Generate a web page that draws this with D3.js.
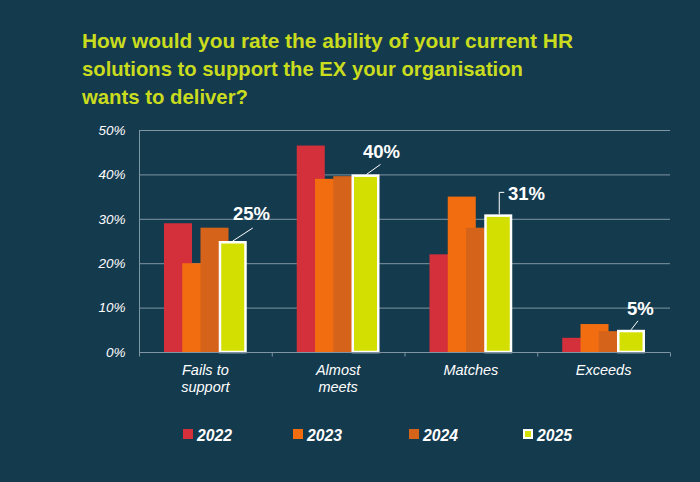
<!DOCTYPE html>
<html>
<head>
<meta charset="utf-8">
<script src="https://cdn.jsdelivr.net/npm/d3@7"></script>
<style>
  html, body { margin: 0; padding: 0; background: #143a4e; }
  svg { display: block; }
</style>
</head>
<body>
<svg id="chart" width="700" height="482"></svg>
<script>
const titleLines = [
  "How would you rate the ability of your current HR",
  "solutions to support the EX your organisation",
  "wants to deliver?"
];
const categories = ["Fails to\nsupport", "Almost\nmeets", "Matches", "Exceeds"];
const years = ["2022", "2023", "2024", "2025"];
const v2022 = [29, 46.5, 22, 3.2];
const v2023 = [20, 39, 35, 6.3];
const v2024 = [28, 39.6, 28, 4.7];
const v2025 = [25, 40, 31, 5];
const labels2025 = ["25%", "40%", "31%", "5%"];
const yTicks = [0, 10, 20, 30, 40, 50];

const colors = ["#d3303b", "#f26d0f", "#d6631a", "#d2df00"];
const seriesValues = [v2022, v2023, v2024, v2025];

const svg = d3.select("#chart");
svg.append("rect").attr("width", 700).attr("height", 482).attr("fill", "#143a4e");

// Title
const titleWidths = [491, 441, 166];
const title = svg.append("g");
titleLines.forEach((t, i) => {
  title.append("text")
    .attr("x", 82).attr("y", 48 + i * 28)
    .attr("fill", "#c9dc1e")
    .attr("font-family", "'Liberation Sans', Arial, sans-serif")
    .attr("font-weight", "bold")
    .attr("font-size", 21)
    .attr("textLength", titleWidths[i])
    .attr("lengthAdjust", "spacingAndGlyphs")
    .text(t);
});

const pLeft = 139, pRight = 670, pTop = 130, pBottom = 352;
const x0 = d3.scaleBand().domain(categories).range([pLeft, pRight]).padding(0);
const x1 = d3.scaleBand().domain(years).range([0, 73]).padding(0);
const barW = 28;
const groupOffset = (x0.bandwidth() - (x1(years[3]) + barW)) / 2;
const y = d3.scaleLinear().domain([0, 50]).range([pBottom, pTop]);

// Gridlines
svg.append("g").selectAll("line").data(yTicks.filter(d => d > 0)).join("line")
  .attr("x1", pLeft).attr("x2", pRight)
  .attr("y1", d => y(d) + 0.5).attr("y2", d => y(d) + 0.5)
  .attr("stroke", "#7f95a2").attr("stroke-width", 1);

// Y axis
const yAxis = svg.append("g").attr("transform", `translate(${pLeft + 0.5},0)`)
  .call(d3.axisLeft(y).tickValues(yTicks).tickFormat(d => d + "%").tickSize(0).tickPadding(14));
yAxis.select(".domain").attr("stroke", "#7f95a2").attr("d", `M0,${pTop}V${pBottom + 3}`);
yAxis.selectAll("text")
  .attr("fill", "#ffffff")
  .attr("font-family", "'Liberation Sans', Arial, sans-serif")
  .attr("font-style", "italic")
  .attr("font-size", 13.5);

// Bars
years.forEach((yr, si) => {
  const inset = si === 3 ? 1.25 : 0;
  svg.append("g").selectAll("rect").data(categories).join("rect")
    .attr("x", (c) => x0(c) + groupOffset + x1(yr) + inset)
    .attr("y", (c, i) => y(seriesValues[si][i]) + inset)
    .attr("width", barW - 2 * inset)
    .attr("height", (c, i) => pBottom - y(seriesValues[si][i]) - inset)
    .attr("fill", colors[si])
    .attr("stroke", si === 3 ? "#ffffff" : "none")
    .attr("stroke-width", si === 3 ? 2.5 : 0);
});

// X axis
const xAxis = svg.append("g").attr("transform", `translate(0,${pBottom + 0.5})`);
xAxis.append("line").attr("x1", pLeft).attr("x2", pRight).attr("stroke", "#7f95a2");
xAxis.selectAll(".tk").data(categories.concat(["end"])).join("line")
  .attr("class", "tk")
  .attr("x1", (c, i) => i < categories.length ? x0(c) + 0.5 : pRight + 0.5)
  .attr("x2", (c, i) => i < categories.length ? x0(c) + 0.5 : pRight + 0.5)
  .attr("y1", 0).attr("y2", 4)
  .attr("stroke", "#7f95a2");

// Category labels
categories.forEach(c => {
  const lines = c.split("\n");
  const cx = x0(c) + x0.bandwidth() / 2;
  const t = svg.append("text")
    .attr("x", cx)
    .attr("y", 375)
    .attr("text-anchor", "middle")
    .attr("fill", "#ffffff")
    .attr("font-family", "'Liberation Sans', Arial, sans-serif")
    .attr("font-style", "italic")
    .attr("font-size", 14.5);
  lines.forEach((l, i) => {
    t.append("tspan").attr("x", cx).attr("dy", i === 0 ? 0 : 17).text(l);
  });
});

// 2025 value labels with leader lines
const barX = (ci) => x0(categories[ci]) + groupOffset + x1(years[3]);
const lblCfg = [
  { lx: 233, ly: 220, line: (ci) => `M${barX(ci) + 14},${y(v2025[ci])}L${barX(ci) + 34},${y(v2025[ci]) - 13}` },
  { lx: 363, ly: 158, line: (ci) => `M${barX(ci) + 15},${y(v2025[ci])}L${barX(ci) + 29},${y(v2025[ci]) - 10}` },
  { lx: 508, ly: 200, line: (ci) => `M${barX(ci) + 15},${y(v2025[ci])}V${y(v2025[ci]) - 22}H${barX(ci) + 20}` },
  { lx: 627, ly: 315, line: (ci) => `M${barX(ci) + 14},${y(v2025[ci])}L${barX(ci) + 21},${y(v2025[ci]) - 9}` }
];
labels2025.forEach((l, ci) => {
  svg.append("path").attr("d", lblCfg[ci].line(ci))
    .attr("fill", "none").attr("stroke", "#ffffff").attr("stroke-width", 1);
  svg.append("text")
    .attr("x", lblCfg[ci].lx).attr("y", lblCfg[ci].ly)
    .attr("fill", "#ffffff")
    .attr("font-family", "'Liberation Sans', Arial, sans-serif")
    .attr("font-weight", "bold")
    .attr("font-size", 18.5)
    .text(l);
});

// Legend
const legendX = [183, 293, 409, 523];
years.forEach((yr, i) => {
  const g = svg.append("g").attr("transform", `translate(${legendX[i]},0)`);
  g.append("rect")
    .attr("x", i === 3 ? 1 : 0).attr("y", i === 3 ? 430 : 429)
    .attr("width", i === 3 ? 8 : 10).attr("height", i === 3 ? 8 : 10)
    .attr("fill", colors[i])
    .attr("stroke", i === 3 ? "#ffffff" : "none")
    .attr("stroke-width", i === 3 ? 2 : 0);
  g.append("text")
    .attr("x", 14).attr("y", 441)
    .attr("fill", "#ffffff")
    .attr("font-family", "'Liberation Sans', Arial, sans-serif")
    .attr("font-weight", "bold")
    .attr("font-style", "italic")
    .attr("font-size", 17)
    .attr("textLength", 35)
    .attr("lengthAdjust", "spacingAndGlyphs")
    .text(yr);
});
</script>
</body>
</html>
